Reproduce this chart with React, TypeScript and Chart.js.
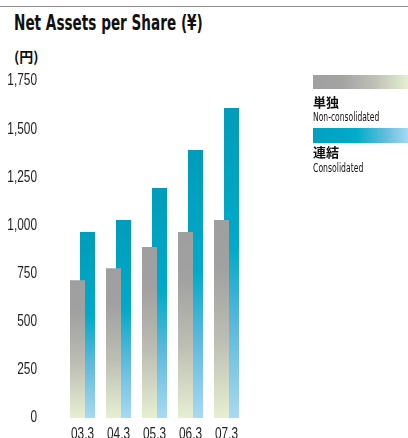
import React, { useEffect, useRef } from "react";
import { Chart, registerables } from "chart.js";

Chart.register(...registerables);

const categories = ["03.3", "04.3", "05.3", "06.3", "07.3"];
const nonConsolidated = [715, 778, 888, 966, 1028];
const consolidated = [966, 1028, 1194, 1392, 1610];
const yTickValues = [0, 250, 500, 750, 1000, 1250, 1500, 1750];

const TICK_FONT = "16px 'Liberation Sans', sans-serif";
const TICK_SCALE = 0.74;
const COND = "'DejaVu Sans Condensed', sans-serif";
const CJK = "'Noto Sans CJK JP', sans-serif";

function barGradient(ctx: any, stops: [number, string][]) {
  const chart = ctx.chart;
  const y = chart.scales && chart.scales.y;
  if (!chart.chartArea || !y || typeof ctx.raw !== "number") return stops[0][1];
  const top = y.getPixelForValue(ctx.raw);
  const bottom = y.getPixelForValue(0);
  const g = chart.ctx.createLinearGradient(0, top, 0, bottom);
  stops.forEach(([o, c]) => g.addColorStop(o, c));
  return g;
}

const grayStops: [number, string][] = [
  [0, "#9f9f9f"],
  [0.25, "#a1a1a1"],
  [0.6, "#bcbdb2"],
  [1, "#e6efd2"],
];
const blueStops: [number, string][] = [
  [0, "#009cbb"],
  [0.45, "#00aac9"],
  [0.7, "#5ab9dc"],
  [1, "#a9d9f3"],
];

const condensedTicks = {
  id: "condensedTicks",
  afterDraw(chart: any) {
    const ctx = chart.ctx;
    const xs = chart.scales.x;
    const ys = chart.scales.y;
    ctx.save();
    ctx.font = TICK_FONT;
    ctx.fillStyle = "#222";
    // y ticks, right aligned
    ctx.textAlign = "right";
    ctx.textBaseline = "middle";
    ys.ticks.forEach((t: any, i: number) => {
      const py = ys.getPixelForTick(i);
      const txt = Number(t.value).toLocaleString("en-US");
      ctx.save();
      ctx.translate(ys.right - 27.5, py);
      ctx.scale(TICK_SCALE, 1);
      ctx.fillText(txt, 0, 0);
      ctx.restore();
    });
    // x ticks
    ctx.textAlign = "center";
    ctx.textBaseline = "alphabetic";
    const labels = xs.getLabels();
    labels.forEach((lab: string, i: number) => {
      const px = xs.getPixelForTick(i);
      ctx.save();
      ctx.translate(px, xs.top + 21);
      ctx.scale(TICK_SCALE, 1);
      ctx.fillText(lab, 0, 0);
      ctx.restore();
    });
    ctx.restore();
  },
};

export default function App() {
  const canvasRef = useRef<HTMLCanvasElement | null>(null);

  useEffect(() => {
    if (!canvasRef.current) return;
    const chart = new Chart(canvasRef.current, {
      type: "bar",
      data: {
        labels: categories,
        datasets: [
          {
            label: "単独",
            data: nonConsolidated,
            backgroundColor: (c: any) => barGradient(c, grayStops),
            borderWidth: 0,
          },
          {
            label: "連結",
            data: consolidated,
            backgroundColor: (c: any) => barGradient(c, blueStops),
            borderWidth: 0,
          },
        ],
      },
      options: {
        responsive: false,
        animation: false,
        devicePixelRatio: 1,
        layout: { padding: { left: 0, right: 163.5, top: 81, bottom: 0 } },
        datasets: {
          bar: { categoryPercentage: 20 / 36, barPercentage: 1.5 },
        },
        plugins: {
          legend: { display: false },
          tooltip: { enabled: false },
          title: { display: false },
        },
        scales: {
          x: {
            grid: { display: false, drawTicks: false },
            border: { display: false },
            ticks: { display: false, maxRotation: 0, minRotation: 0, autoSkip: false },
            afterFit: (s: any) => {
              s.height = 20;
            },
          },
          y: {
            min: 0,
            max: 1750,
            grid: { display: false, drawTicks: false },
            border: { display: false },
            afterBuildTicks: (s: any) => {
              s.ticks = yTickValues.map((v) => ({ value: v }));
            },
            ticks: { display: false },
            afterFit: (s: any) => {
              s.width = 64.5;
            },
          },
        },
      },
      plugins: [condensedTicks],
    });
    return () => chart.destroy();
  }, []);

  const squeeze = (s: number): React.CSSProperties => ({
    display: "inline-block",
    transform: `scaleX(${s})`,
    transformOrigin: "left center",
    whiteSpace: "nowrap",
  });

  return (
    <div
      style={{
        position: "absolute",
        left: 0,
        top: 0,
        width: 408,
        height: 438,
        overflow: "hidden",
        background: "#fff",
      }}
    >
      <div
        style={{
          position: "absolute",
          left: 0,
          top: 6,
          width: 408,
          height: 1,
          background: "#8c8c8c",
        }}
      />
      <div
        style={{
          position: "absolute",
          left: 14,
          top: 11,
          fontFamily: COND,
          fontWeight: "bold",
          fontSize: 21,
          lineHeight: "24px",
          color: "#111",
          whiteSpace: "nowrap",
        }}
      >
        <span style={squeeze(0.72)}>Net Assets per Share (¥)</span>
      </div>
      <div
        style={{
          position: "absolute",
          left: 14,
          top: 47,
          fontFamily: CJK,
          fontWeight: "bold",
          fontSize: 14,
          lineHeight: "18px",
          color: "#111",
        }}
      >
        (円)
      </div>
      <canvas
        ref={canvasRef}
        width={408}
        height={438}
        style={{ position: "absolute", left: 0, top: 0, width: 408, height: 438 }}
      />
      <div style={{ position: "absolute", left: 313, top: 75, width: 95 }}>
        <div
          style={{
            height: 14,
            background:
              "linear-gradient(to right, #a0a0a0 0%, #a3a3a3 30%, #bfc0b6 65%, #e6eed2 100%)",
          }}
        />
        <div
          style={{
            fontFamily: CJK,
            fontWeight: "bold",
            fontSize: 13,
            lineHeight: "16px",
            marginTop: 5,
            color: "#111",
          }}
        >
          単独
        </div>
        <div
          style={{
            fontFamily: COND,
            fontSize: 13,
            lineHeight: "13px",
            color: "#111",
          }}
        >
          <span style={squeeze(0.65)}>Non-consolidated</span>
        </div>
      </div>
      <div style={{ position: "absolute", left: 313, top: 128, width: 95 }}>
        <div
          style={{
            height: 15,
            background:
              "linear-gradient(to right, #009fbe 0%, #00abc9 45%, #5dbcde 75%, #a8d8f2 100%)",
          }}
        />
        <div
          style={{
            fontFamily: CJK,
            fontWeight: "bold",
            fontSize: 13,
            lineHeight: "16px",
            marginTop: 1,
            color: "#111",
          }}
        >
          連結
        </div>
        <div
          style={{
            fontFamily: COND,
            fontSize: 13,
            lineHeight: "13px",
            marginTop: 1,
            color: "#111",
          }}
        >
          <span style={squeeze(0.66)}>Consolidated</span>
        </div>
      </div>
    </div>
  );
}
